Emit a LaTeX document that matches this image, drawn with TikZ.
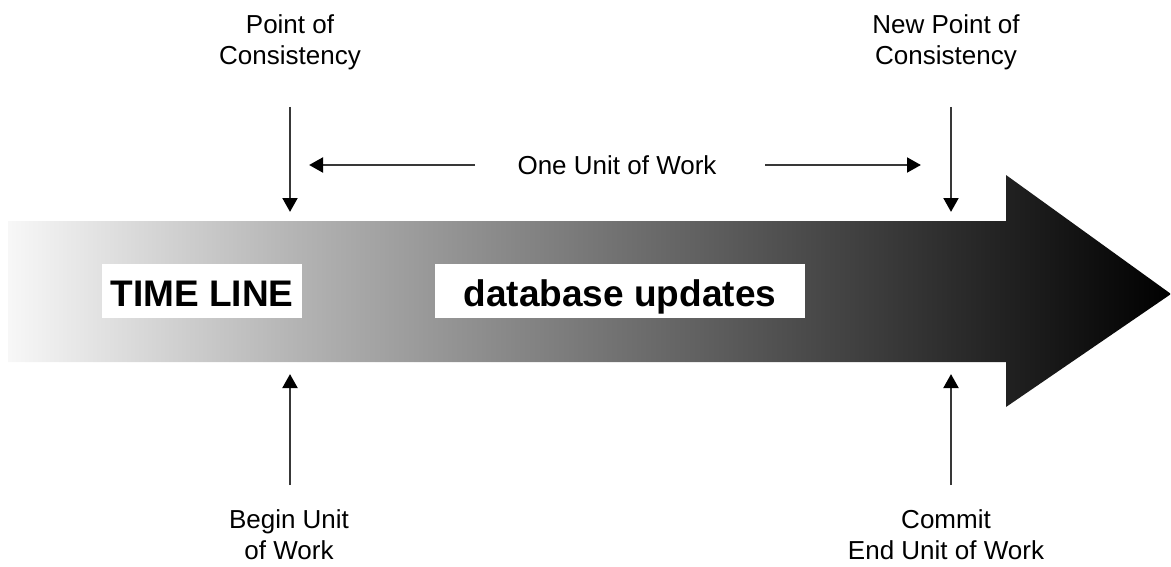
\documentclass[tikz,border=0pt]{standalone}
\usepackage{fontspec}
\setmainfont{Liberation Sans}
\usetikzlibrary{arrows.meta}
\pgfdeclarehorizontalshading{timeline}{100bp}{%
  rgb(0bp)=(0.97,0.97,0.97);
  rgb(25bp)=(0.97,0.97,0.97);
  rgb(37.1bp)=(0.71,0.71,0.71);
  rgb(67.9bp)=(0.13,0.13,0.13);
  rgb(75bp)=(0,0,0);
  rgb(100bp)=(0,0,0)}
\begin{document}
\begin{tikzpicture}[x=0.75pt,y=-0.75pt,
  lbl/.style={align=center,inner sep=0pt,font=\fontsize{19.5}{23.5}\selectfont},
  boxlbl/.style={fill=white,inner sep=0pt,text height=31.5pt,text depth=9pt,anchor=base,font=\fontsize{27.75}{32}\selectfont\bfseries},
  ptr/.style={draw=black!78,line width=2.2pt,-{Triangle[width=11pt,length=10.5pt,color=black]}}]
\useasboundingbox (0,0) rectangle (1171,567);
% time line arrow
\shade[shading=timeline]
  (8,221) -- (1006,221) -- (1006,175) -- (1171,294) -- (1006,407) -- (1006,362) -- (8,362) -- cycle;
% boxes on the time line
\node[boxlbl,minimum width=150pt] (tl) at (202,306) {TIME LINE};
\node[boxlbl,minimum width=277.5pt] (db) at (620,306) {database updates};
% labels
\node[lbl] (poc) at (290,42) {Point of\\Consistency};
\node[lbl] (npoc) at (946,42) {New Point of\\Consistency};
\node[lbl] (begin) at (289,535) {Begin Unit\\of Work};
\node[lbl] (commit) at (946,535) {Commit\\End Unit of Work};
\node[lbl] (uow) at (617,165) {One Unit of Work};
% arrow end points
\coordinate (a1s) at (290,107); \coordinate (a1e) at (290,212);
\coordinate (a2s) at (951,107); \coordinate (a2e) at (951,212);
\coordinate (a3s) at (290,485); \coordinate (a3e) at (290,374);
\coordinate (a4s) at (951,485); \coordinate (a4e) at (951,374);
\coordinate (h1s) at (475,165); \coordinate (h1e) at (309,165);
\coordinate (h2s) at (765,165); \coordinate (h2e) at (921,165);
\draw[ptr] (a1s) -- (a1e);
\draw[ptr] (a2s) -- (a2e);
\draw[ptr] (a3s) -- (a3e);
\draw[ptr] (a4s) -- (a4e);
\draw[ptr] (h1s) -- (h1e);
\draw[ptr] (h2s) -- (h2e);
\end{tikzpicture}
\end{document}
